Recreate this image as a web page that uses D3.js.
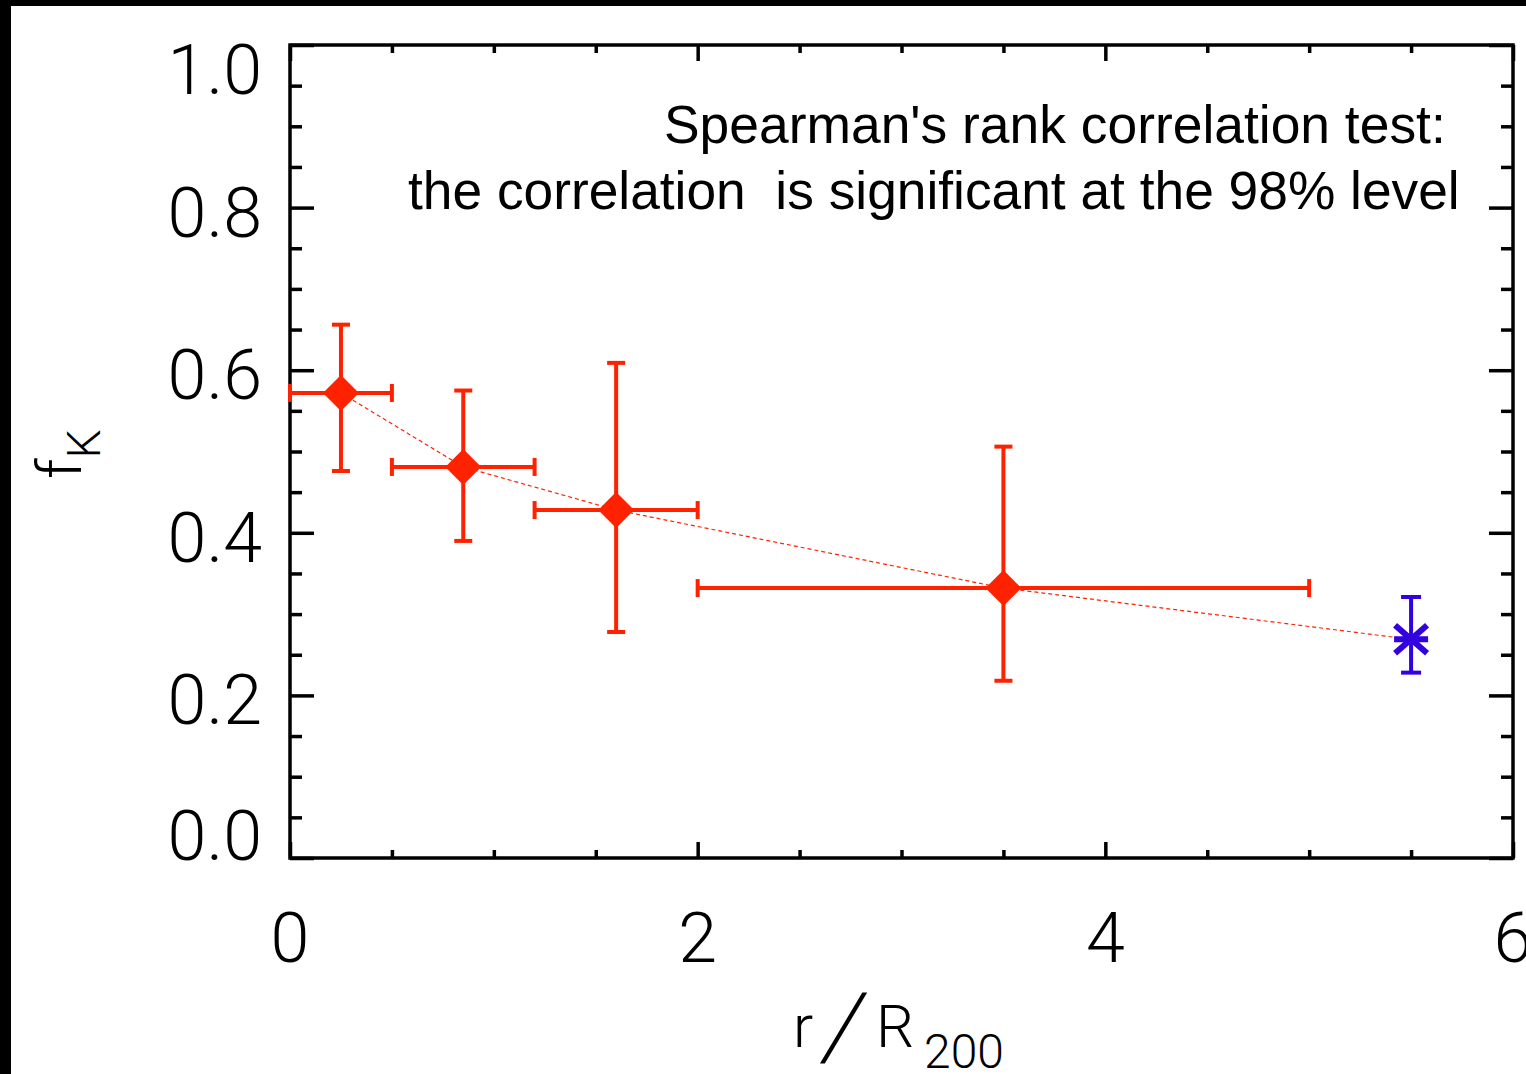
<!DOCTYPE html>
<html>
<head>
<meta charset="utf-8">
<script src="https://cdn.jsdelivr.net/npm/d3@7"></script>
<style>
  html, body { margin: 0; padding: 0; background: #fff; }
  svg { display: block; }
</style>
</head>
<body>
<div id="chart"></div>
<script>
// binned points (red diamonds)
var binX = [0.25, 0.85, 1.6, 3.5];
var binY = [0.572, 0.481, 0.428, 0.332];
var binXLo = [0.0, 0.5, 1.2, 2.0];
var binXHi = [0.5, 1.2, 2.0, 5.0];
var binYLo = [0.476, 0.390, 0.278, 0.218];
var binYHi = [0.656, 0.575, 0.609, 0.506];

// field point (blue asterisk)
var fieldX = [5.5];
var fieldY = [0.269];
var fieldYLo = [0.228];
var fieldYHi = [0.321];

var xMajor = [0, 2, 4, 6];
var xMinor = [0.5, 1, 1.5, 2.5, 3, 3.5, 4.5, 5, 5.5];
var yMajor = [0, 0.2, 0.4, 0.6, 0.8, 1.0];
var yMinor = [0.05, 0.1, 0.15, 0.25, 0.3, 0.35, 0.45, 0.5, 0.55, 0.65, 0.7, 0.75, 0.85, 0.9, 0.95];

var noteLines = ["Spearman's rank correlation test:", "the correlation  is significant at the 98% level"];

var width = 1526, height = 1074;
var pLeft = 290, pRight = 1513, pTop = 45, pBottom = 858;
var red = '#ff2200', blue = '#3300e0';
var tickFont = 'Roboto, "DejaVu Sans", sans-serif';

var svg = d3.select('#chart').append('svg')
	.attr('width', width)
	.attr('height', height);

svg.append('rect').attr('width', width).attr('height', height).attr('fill', '#fff');
// black border strips at left and top
svg.append('rect').attr('x', 0).attr('y', 0).attr('width', 11).attr('height', height).attr('fill', '#000');
svg.append('rect').attr('x', 0).attr('y', 0).attr('width', width).attr('height', 6).attr('fill', '#000');

var x = d3.scaleLinear().domain([0, 6]).range([pLeft, pRight]);
var y = d3.scaleLinear().domain([0, 1]).range([pBottom, pTop]);

/**
 * Draws inward ticks on one side
 */
var ticks = function(axisFn, scale, values, size, tx, ty) {
	var g = svg.append('g')
		.attr('transform', 'translate(' + tx + ',' + ty + ')')
		.call(axisFn(scale).tickValues(values).tickSize(-size).tickFormat(''));
	g.select('.domain').remove();
	g.selectAll('line').attr('stroke', '#000').attr('stroke-width', 3.5);
	return g;
};

ticks(d3.axisBottom, x, xMajor, 16, 0, pBottom);
ticks(d3.axisBottom, x, xMinor, 8, 0, pBottom);
ticks(d3.axisTop, x, xMajor, 16, 0, pTop);
ticks(d3.axisTop, x, xMinor, 8, 0, pTop);
ticks(d3.axisLeft, y, yMajor, 24, pLeft, 0);
ticks(d3.axisLeft, y, yMinor, 12, pLeft, 0);
ticks(d3.axisRight, y, yMajor, 24, pRight, 0);
ticks(d3.axisRight, y, yMinor, 12, pRight, 0);

// frame
svg.append('rect')
	.attr('x', pLeft).attr('y', pTop)
	.attr('width', pRight - pLeft).attr('height', pBottom - pTop)
	.attr('fill', 'none')
	.attr('stroke', '#000')
	.attr('stroke-width', 3.5);

// tick labels
svg.append('g').selectAll('text').data(xMajor).enter().append('text')
	.attr('x', function(d) { return x(d); })
	.attr('y', 962)
	.attr('text-anchor', 'middle')
	.style('font-family', tickFont)
	.style('font-weight', 300)
	.style('font-size', '70px')
	.text(function(d) { return d; });

svg.append('g').selectAll('text').data(yMajor).enter().append('text')
	.attr('x', 262)
	.attr('y', function(d) {
		if (d === 1) return y(d) + 49;
		if (d === 0) return y(d) + 2;
		return y(d) + 29;
	})
	.attr('text-anchor', 'end')
	.style('font-family', tickFont)
	.style('font-weight', 300)
	.style('font-size', '70px')
	.text(function(d) { return d3.format('.1f')(d); });

// axis titles
var xt = svg.append('text')
	.attr('y', 1047)
	.style('font-family', tickFont)
	.style('font-weight', 300)
	.style('font-size', '60px');
xt.append('tspan').attr('x', 793).text('r');
xt.append('tspan').attr('x', 876).text('R');
xt.append('tspan').attr('x', 924).attr('dy', 21).style('font-size', '48px').text('200');

// the slash is taller and more slanted than the font's own
svg.append('text')
	.attr('transform', 'translate(838,1058) skewX(-12)')
	.attr('text-anchor', 'middle')
	.style('font-family', tickFont)
	.style('font-weight', 300)
	.style('font-size', '92px')
	.text('/');

var yt = svg.append('text')
	.attr('transform', 'translate(81,479) rotate(-90)')
	.style('font-family', tickFont)
	.style('font-weight', 300)
	.style('font-size', '62px');
yt.append('tspan').text('f');
yt.append('tspan').attr('dy', 19).style('font-size', '46px').text('K');

// annotation
svg.append('text')
	.attr('x', 664).attr('y', 143)
	.style('font-family', '"Liberation Sans", Arial, sans-serif')
	.style('font-size', '53.4px')
	.text(noteLines[0]);
svg.append('text')
	.attr('x', 408).attr('y', 209)
	.style('font-family', '"Liberation Sans", Arial, sans-serif')
	.style('font-size', '53.3px')
	.style('white-space', 'pre')
	.text(noteLines[1]);

// trend line through all points
var trend = binX.map(function(d, i) { return [d, binY[i]]; }).concat([[fieldX[0], fieldY[0]]]);
svg.append('path').datum(trend)
	.attr('fill', 'none')
	.attr('stroke', red)
	.attr('stroke-width', 1.2)
	.attr('stroke-dasharray', '4,3')
	.attr('d', d3.line().x(function(d) { return x(d[0]); }).y(function(d) { return y(d[1]); }));

// error bars
var eb = svg.append('g').attr('stroke', red).attr('stroke-width', 4);
binX.forEach(function(d, i) {
	eb.append('line').attr('x1', x(d)).attr('x2', x(d)).attr('y1', y(binYLo[i])).attr('y2', y(binYHi[i]));
	eb.append('line').attr('x1', x(binXLo[i])).attr('x2', x(binXHi[i])).attr('y1', y(binY[i])).attr('y2', y(binY[i]));
	[binYLo[i], binYHi[i]].forEach(function(v) {
		eb.append('line').attr('x1', x(d) - 9).attr('x2', x(d) + 9).attr('y1', y(v)).attr('y2', y(v));
	});
	[binXLo[i], binXHi[i]].forEach(function(v) {
		eb.append('line').attr('x1', x(v)).attr('x2', x(v)).attr('y1', y(binY[i]) - 9).attr('y2', y(binY[i]) + 9);
	});
});

svg.append('g').selectAll('path').data(binX).enter().append('path')
	.attr('transform', function(d, i) { return 'translate(' + x(d) + ',' + y(binY[i]) + ')'; })
	.attr('d', 'M0,-18L18,0L0,18L-18,0Z')
	.attr('fill', red);

// field point
var fb = svg.append('g').attr('stroke', blue).attr('stroke-width', 4);
fieldX.forEach(function(d, i) {
	var cx = x(d), cy = y(fieldY[i]);
	fb.append('line').attr('x1', cx).attr('x2', cx).attr('y1', y(fieldYLo[i])).attr('y2', y(fieldYHi[i]));
	[fieldYLo[i], fieldYHi[i]].forEach(function(v) {
		fb.append('line').attr('x1', cx - 10).attr('x2', cx + 10).attr('y1', y(v)).attr('y2', y(v));
	});
	fb.append('path')
		.attr('stroke-width', 6)
		.attr('d', 'M' + (cx - 17) + ',' + cy + 'L' + (cx + 17) + ',' + cy +
			'M' + (cx - 16) + ',' + (cy - 14) + 'L' + (cx + 16) + ',' + (cy + 14) +
			'M' + (cx - 16) + ',' + (cy + 14) + 'L' + (cx + 16) + ',' + (cy - 14));
});
</script>
</body>
</html>
